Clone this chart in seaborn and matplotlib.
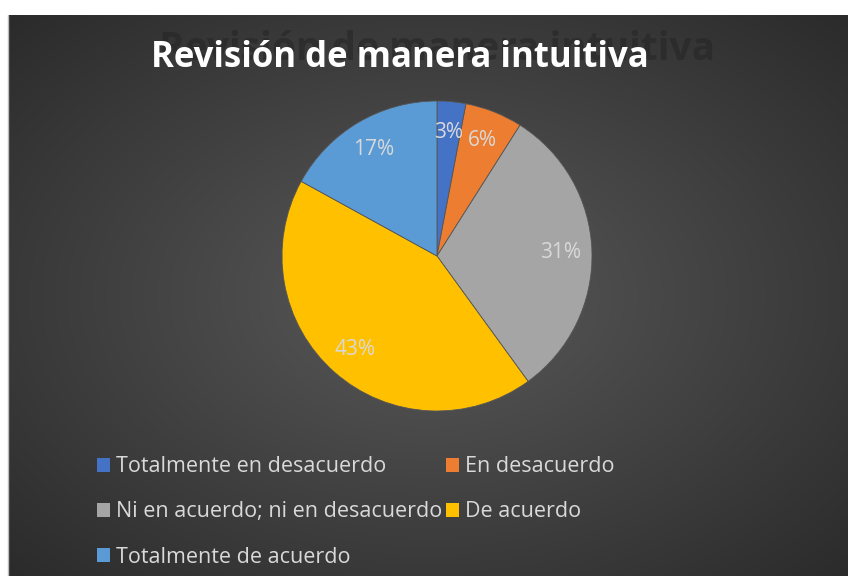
import numpy as np
import seaborn as sns
import matplotlib.pyplot as plt
from matplotlib.patches import Patch

categories = ['Totalmente en desacuerdo', 'En desacuerdo',
              'Ni en acuerdo; ni en desacuerdo', 'De acuerdo',
              'Totalmente de acuerdo']
values = [3, 6, 31, 43, 17]
colors = ['#4472C4', '#ED7D31', '#A5A5A5', '#FFC000', '#5B9BD5']
title = 'Revisión de manera intuitiva'

sns.set_theme(style='white')
plt.rcParams['font.family'] = ['Open Sans', 'DejaVu Sans']

W, H = 848, 576
fig = plt.figure(figsize=(W / 100, H / 100), dpi=100)
fig.patch.set_facecolor('white')

# dark radial gradient panel
left, top = 9, 15
bg = fig.add_axes([left / W, 0, (W - left) / W, (H - top) / H])
yy, xx = np.mgrid[0:300, 0:400]
cx, cy = 0.5 * 400, 0.5 * 300
r = np.sqrt(((xx - cx) / 400) ** 2 + ((yy - cy) / 300) ** 2) / 0.7
r = np.clip(r, 0, 1)
shade = 0.35 - 0.18 * r
bg.imshow(np.dstack([shade] * 3), aspect='auto', extent=[0, 1, 0, 1])
bg.set_axis_off()
fig.add_artist(plt.Line2D([8 / W, 8 / W], [0, (H - top) / H], color='#bbbbbb', lw=1))

# title with a faint shadow
fig.text(437 / W, 1 - 50 / H, title, color='#262626', fontsize=28, fontweight='bold',
         ha='center', va='center', alpha=0.6)
fig.text(400 / W, 1 - 58 / H, title, color='white', fontsize=25, fontweight='bold',
         ha='center', va='center')

# pie
R = 155
ax = fig.add_axes([(437 - R) / W, 1 - (256 + R) / H, 2 * R / W, 2 * R / H])
wedges, texts, autotexts = ax.pie(values, colors=colors, startangle=90, counterclock=False,
                                  autopct='%1.0f%%', pctdistance=0.8,
                                  wedgeprops=dict(linewidth=0.6, edgecolor='#555555'),
                                  textprops=dict(color='#d9d9d9', fontsize=15))
ax.set_xlim(-1, 1)
ax.set_ylim(-1, 1)
ax.set_aspect('equal')
ax.set_axis_off()

# legend, filled row by row
order = [0, 2, 4, 1, 3]
handles = [Patch(facecolor=colors[i], edgecolor='none') for i in order]
labels = [categories[i] for i in order]
fig.legend(handles, labels, loc='upper left', bbox_to_anchor=(78 / W, 1 - 437 / H), ncol=2,
           frameon=False, fontsize=15.5, labelcolor='#d9d9d9', handlelength=0.6,
           handleheight=0.6, handletextpad=0.25, columnspacing=0.2, labelspacing=1.12)

fig.savefig('out.png', dpi=100)
